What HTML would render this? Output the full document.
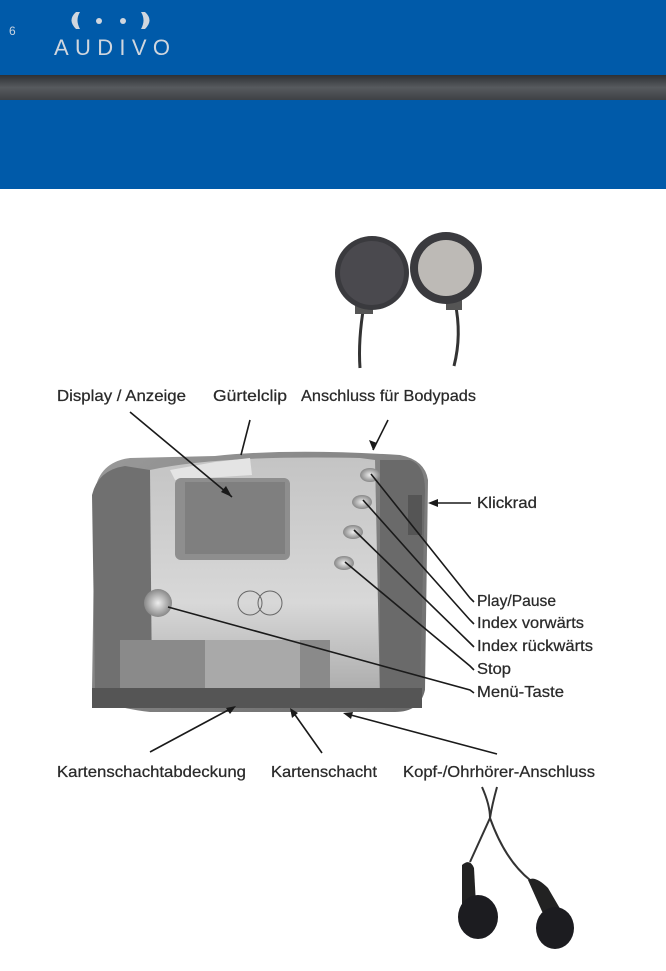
<!DOCTYPE html>
<html><head><meta charset="utf-8"><style>
html,body{margin:0;padding:0;background:#fff;}
svg{display:block;}
text{font-family:"Liberation Sans",sans-serif;fill:#2a2a2a;font-size:16px;stroke:#2a2a2a;stroke-width:0.25;}
</style></head><body>
<svg width="666" height="971" viewBox="0 0 666 971" xmlns="http://www.w3.org/2000/svg">
<defs>
<linearGradient id="bar" x1="0" y1="0" x2="0" y2="1"><stop offset="0" stop-color="#2e3135"/><stop offset="0.5" stop-color="#575a5e"/><stop offset="1" stop-color="#3e4145"/></linearGradient>
<linearGradient id="body" x1="0" y1="0" x2="1" y2="1"><stop offset="0" stop-color="#9a9a9a"/><stop offset="1" stop-color="#6a6a6a"/></linearGradient>
<linearGradient id="face" x1="0" y1="0" x2="0" y2="1"><stop offset="0" stop-color="#c4c4c4"/><stop offset="0.6" stop-color="#d8d8d8"/><stop offset="1" stop-color="#a8a8a8"/></linearGradient>
<radialGradient id="btn"><stop offset="0" stop-color="#eee"/><stop offset="1" stop-color="#888"/></radialGradient>
</defs>
<rect x="0" y="0" width="666" height="189" fill="#005aa9"/>
<rect x="0" y="75" width="666" height="25" fill="url(#bar)"/>
<text x="9" y="35" style="fill:#c8d3e0;stroke:none;font-size:12px">6</text>
<text x="54" y="55" textLength="116" lengthAdjust="spacing" style="fill:#d0d6de;stroke:none;font-size:22px">AUDIVO</text>
<path d="M76 12 Q67 20 76 29 L80 29 Q75 20 80 12 Z" fill="#d0d6de"/>
<path d="M145 12 Q154 20 145 29 L141 29 Q146 20 141 12 Z" fill="#d0d6de"/>
<circle cx="99" cy="21" r="3" fill="#d0d6de"/><circle cx="123" cy="21" r="3" fill="#d0d6de"/>

<!-- bodypads -->
<path d="M364 305 Q358 340 360 368" stroke="#333" stroke-width="3" fill="none"/>
<path d="M455 302 Q462 335 454 366" stroke="#333" stroke-width="3" fill="none"/>
<rect x="355" y="300" width="18" height="14" fill="#555"/>
<rect x="446" y="296" width="16" height="14" fill="#555"/>
<circle cx="372" cy="273" r="37" fill="#3a3a3e"/>
<circle cx="372" cy="273" r="32" fill="#4a494e"/>
<circle cx="446" cy="268" r="36" fill="#3a3a3e"/>
<circle cx="446" cy="268" r="28" fill="#bdbab6"/>

<!-- device -->
<path d="M95 490 Q100 462 130 458 L215 456 Q290 448 400 455 Q425 460 428 480 L425 690 Q420 712 395 712 L150 712 Q98 706 92 690 Z" fill="url(#body)"/>
<path d="M150 470 Q220 455 360 458 L375 460 L380 700 L150 700 Z" fill="url(#face)"/>
<path d="M92 495 Q98 470 125 466 L150 470 L152 690 L95 688 Z" fill="#707070"/>
<path d="M170 470 L215 462 L250 458 L252 475 L175 480 Z" fill="#e4e4e4"/>
<rect x="175" y="478" width="115" height="82" rx="6" fill="#8e8e8e"/>
<rect x="185" y="482" width="100" height="72" fill="#7f7f7f"/>
<path d="M380 460 L410 460 Q425 465 425 490 L420 690 L380 700 Z" fill="#6a6a6a"/>
<ellipse cx="370" cy="475" rx="10" ry="7" fill="url(#btn)"/>
<ellipse cx="362" cy="502" rx="10" ry="7" fill="url(#btn)"/>
<ellipse cx="353" cy="532" rx="10" ry="7" fill="url(#btn)"/>
<ellipse cx="344" cy="563" rx="10" ry="7" fill="url(#btn)"/>
<circle cx="158" cy="603" r="14" fill="url(#btn)"/>
<circle cx="250" cy="603" r="12" fill="none" stroke="#666"/><circle cx="270" cy="603" r="12" fill="none" stroke="#666"/>
<rect x="120" y="640" width="210" height="50" fill="#8a8a8a"/>
<rect x="205" y="640" width="95" height="65" fill="#a9a9a9"/>
<rect x="92" y="688" width="330" height="20" fill="#555"/>
<rect x="408" y="495" width="14" height="40" fill="#555"/>

<!-- connectors -->
<g stroke="#1a1a1a" stroke-width="1.6" fill="none">
<line x1="130" y1="412" x2="232" y2="497"/>
<line x1="250" y1="420" x2="241" y2="455"/>
<line x1="388" y1="420" x2="373" y2="450"/>
<line x1="471" y1="503" x2="432" y2="503"/>
<polyline points="474,602 470,598 371,474"/>
<polyline points="474,624 470,620 363,500"/>
<polyline points="474,647 470,643 354,530"/>
<polyline points="474,670 470,666 345,562"/>
<polyline points="474,693 470,690 168,607"/>
<line x1="150" y1="752" x2="232" y2="708"/>
<line x1="322" y1="753" x2="293" y2="712"/>
<line x1="497" y1="754" x2="347" y2="714"/>
</g>
<g fill="#1a1a1a">
<polygon points="232,497 221,492 226,486"/>
<polygon points="373,450 369,440 377,443"/>
<polygon points="428,503 438,499 438,507"/>
<polygon points="236,706 226,708 230,714"/>
<polygon points="290,708 292,718 298,713"/>
<polygon points="343,713 353,712 351,719"/>
</g>

<!-- labels -->
<g>
<text x="57" y="401" textLength="129" lengthAdjust="spacingAndGlyphs">Display / Anzeige</text>
<text x="213" y="401" textLength="74" lengthAdjust="spacingAndGlyphs">Gürtelclip</text>
<text x="301" y="401" textLength="175" lengthAdjust="spacingAndGlyphs">Anschluss für Bodypads</text>
<text x="477" y="508" textLength="60" lengthAdjust="spacingAndGlyphs">Klickrad</text>
<text x="477" y="606" textLength="79" lengthAdjust="spacingAndGlyphs">Play/Pause</text>
<text x="477" y="628" textLength="107" lengthAdjust="spacingAndGlyphs">Index vorwärts</text>
<text x="477" y="651" textLength="116" lengthAdjust="spacingAndGlyphs">Index rückwärts</text>
<text x="477" y="674" textLength="34" lengthAdjust="spacingAndGlyphs">Stop</text>
<text x="477" y="697" textLength="87" lengthAdjust="spacingAndGlyphs">Menü-Taste</text>
<text x="57" y="777" textLength="189" lengthAdjust="spacingAndGlyphs">Kartenschachtabdeckung</text>
<text x="271" y="777" textLength="106" lengthAdjust="spacingAndGlyphs">Kartenschacht</text>
<text x="403" y="777" textLength="192" lengthAdjust="spacingAndGlyphs">Kopf-/Ohrhörer-Anschluss</text>
</g>

<!-- earbuds -->
<g stroke="#333" stroke-width="2" fill="none">
<path d="M482 787 Q490 805 490 818 Q480 840 470 862"/>
<path d="M497 787 Q492 805 490 818 Q505 860 530 880"/>
</g>
<path d="M462 865 Q470 858 474 868 L476 905 L462 910 Z" fill="#222"/>
<path d="M528 880 Q535 875 548 888 L562 912 L545 918 Z" fill="#222"/>
<ellipse cx="478" cy="917" rx="20" ry="22" fill="#1c1c20"/>
<ellipse cx="555" cy="928" rx="19" ry="21" fill="#1c1c20"/>
</svg>
</body></html>
